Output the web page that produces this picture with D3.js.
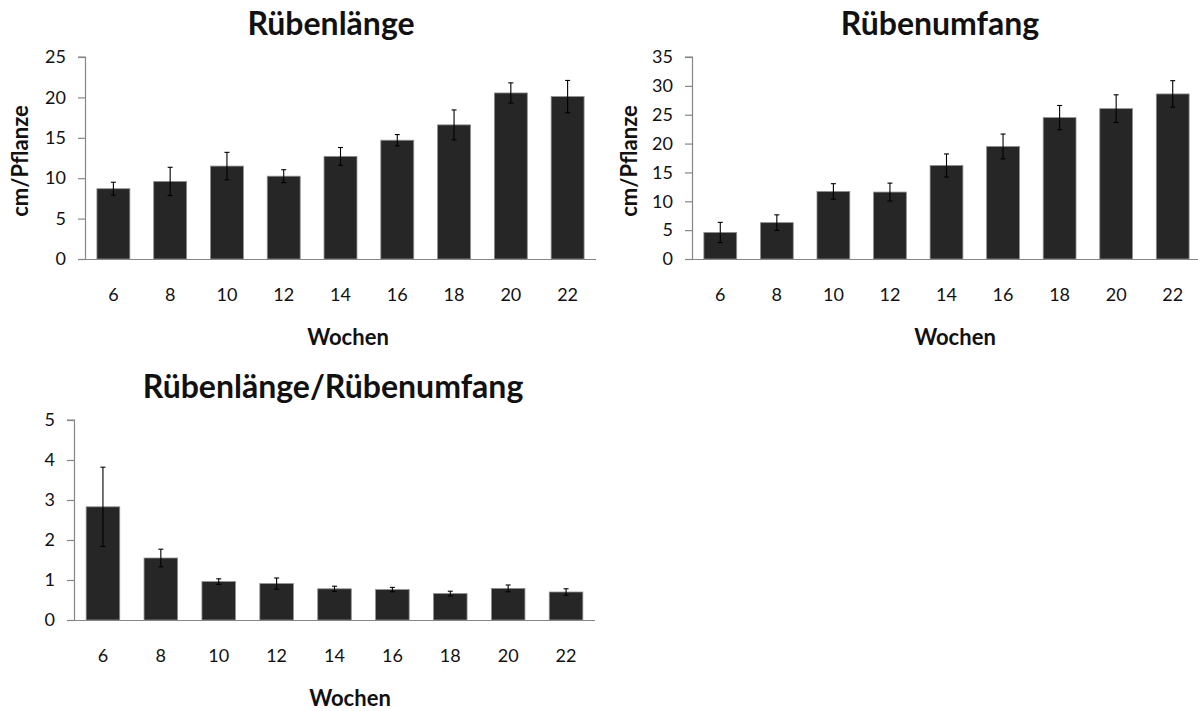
<!DOCTYPE html>
<html>
<head>
<meta charset="utf-8">
<script src="https://cdn.jsdelivr.net/npm/d3@7"></script>
<style>
  html, body { margin: 0; padding: 0; background: #fff; }
  svg { display: block; }
  text { font-family: Lato, "Open Sans", sans-serif; fill: #111; }
</style>
</head>
<body>
<svg id="chart" width="1198" height="711"></svg>
<script>
// Weeks after sowing
const weeks = ["6", "8", "10", "12", "14", "16", "18", "20", "22"];

// Root length (cm/plant) and standard error
const laengeValues = [8.7, 9.6, 11.5, 10.25, 12.7, 14.7, 16.6, 20.55, 20.1];
const laengeErrors = [0.8, 1.75, 1.7, 0.8, 1.1, 0.7, 1.85, 1.25, 2.0];
const laengeTicks = [0, 5, 10, 15, 20, 25];

// Root circumference (cm/plant) and standard error
const umfangValues = [4.6, 6.3, 11.7, 11.6, 16.2, 19.5, 24.5, 26.05, 28.6];
const umfangErrors = [1.75, 1.35, 1.35, 1.55, 2.0, 2.15, 2.1, 2.4, 2.3];
const umfangTicks = [0, 5, 10, 15, 20, 25, 30, 35];

// Ratio length / circumference and standard error
const ratioValues = [2.83, 1.55, 0.96, 0.91, 0.78, 0.76, 0.66, 0.79, 0.70];
const ratioErrors = [0.99, 0.22, 0.07, 0.14, 0.065, 0.055, 0.06, 0.085, 0.08];
const ratioTicks = [0, 1, 2, 3, 4, 5];

const svg = d3.select("#chart");
const FONT = "Lato, 'Open Sans', sans-serif";

function drawPanel(opts) {
  const g = svg.append("g");
  const x = d3.scaleBand().domain(weeks).range([opts.left, opts.right]).paddingInner(0.42).paddingOuter(0.21);
  const y = d3.scaleLinear().domain([0, d3.max(opts.ticks)]).range([opts.bottom, opts.top]);

  // bars
  g.selectAll("rect.bar").data(opts.values).join("rect")
    .attr("class", "bar")
    .attr("x", (d, i) => x(weeks[i]))
    .attr("width", x.bandwidth())
    .attr("y", d => y(d))
    .attr("height", d => y(0) - y(d))
    .attr("fill", "#262626")
    .attr("stroke", "#8f8f8f")
    .attr("stroke-width", 0.8);

  // error bars
  const eb = g.selectAll("g.err").data(opts.values).join("g").attr("class", "err")
    .attr("transform", (d, i) => `translate(${x(weeks[i]) + x.bandwidth() / 2},0)`);
  eb.append("line")
    .attr("y1", (d, i) => y(d + opts.errors[i]))
    .attr("y2", (d, i) => y(d - opts.errors[i]))
    .attr("stroke", "#000").attr("stroke-width", 1.1);
  [1, -1].forEach(s => {
    eb.append("line")
      .attr("x1", -2.5).attr("x2", 2.5)
      .attr("y1", (d, i) => y(d + s * opts.errors[i]))
      .attr("y2", (d, i) => y(d + s * opts.errors[i]))
      .attr("stroke", "#000").attr("stroke-width", 1.1);
  });

  // y axis
  const yAxis = g.append("g").attr("transform", `translate(${opts.left},0)`)
    .call(d3.axisLeft(y).tickValues(opts.ticks).tickSize(7).tickPadding(12).tickFormat(d3.format("d")));
  yAxis.select(".domain").attr("d", `M0.5,${opts.bottom}V${opts.top}H-7`)
    .attr("stroke", "#868686").attr("stroke-width", 1.2);
  yAxis.selectAll(".tick line").attr("stroke", "#868686").attr("stroke-width", 1.2);
  yAxis.selectAll(".tick text").attr("font-size", 18).attr("fill", "#1a1a1a").style("font-family", FONT);

  // x axis
  const xAxis = g.append("g").attr("transform", `translate(0,${opts.bottom})`)
    .call(d3.axisBottom(x).tickSize(0).tickPadding(29));
  xAxis.select(".domain").attr("d", `M${opts.left - 7},0.5H${opts.right}`)
    .attr("stroke", "#868686").attr("stroke-width", 1.2);
  xAxis.selectAll(".tick text").attr("font-size", 18).attr("fill", "#1a1a1a").style("font-family", FONT);

  // titles
  g.append("text").attr("x", opts.titleX).attr("y", opts.titleY)
    .attr("text-anchor", "middle").attr("font-size", 32).attr("font-weight", "bold")
    .text(opts.title);
  g.append("text").attr("x", opts.xTitleX).attr("y", opts.bottom + 86)
    .attr("text-anchor", "middle").attr("font-size", 22).attr("font-weight", "bold")
    .text("Wochen");
  if (opts.yTitleX) {
    g.append("text")
      .attr("transform", `translate(${opts.yTitleX},${(opts.top + opts.bottom) / 2 + 3}) rotate(-90)`)
      .attr("text-anchor", "middle").attr("font-size", 22).attr("font-weight", "bold")
      .text("cm/Pflanze");
  }
}

drawPanel({
  title: "Rübenlänge", values: laengeValues, errors: laengeErrors, ticks: laengeTicks,
  left: 85, right: 596, top: 57, bottom: 259,
  titleX: 331, titleY: 35, xTitleX: 348, yTitleX: 28
});

drawPanel({
  title: "Rübenumfang", values: umfangValues, errors: umfangErrors, ticks: umfangTicks,
  left: 692, right: 1201, top: 57, bottom: 259,
  titleX: 940, titleY: 35, xTitleX: 955, yTitleX: 637
});

drawPanel({
  title: "Rübenlänge/Rübenumfang", values: ratioValues, errors: ratioErrors, ticks: ratioTicks,
  left: 74, right: 595, top: 420, bottom: 620,
  titleX: 333, titleY: 398, xTitleX: 350, yTitleX: null
});
</script>
</body>
</html>
